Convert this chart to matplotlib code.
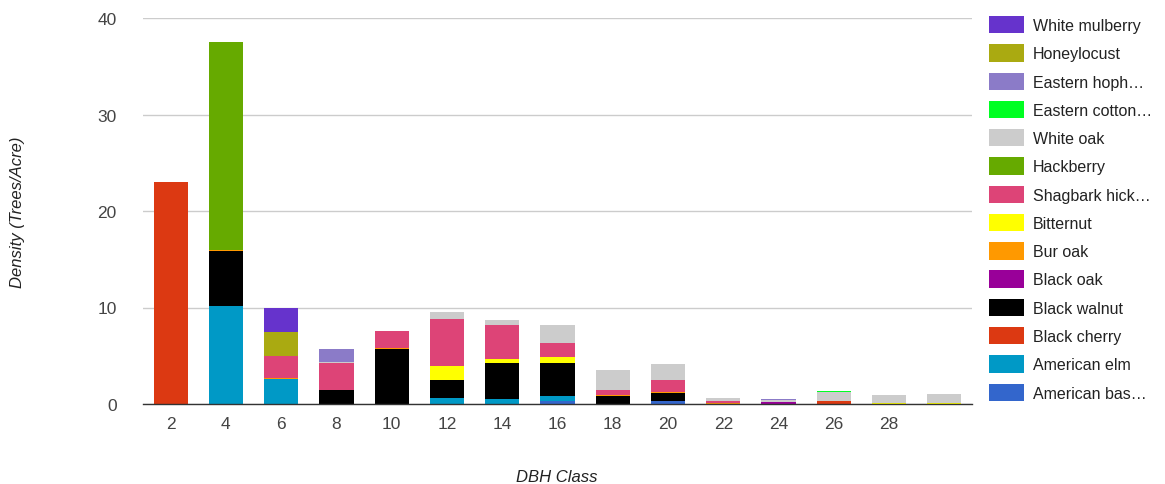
import matplotlib
matplotlib.use("Agg")
import matplotlib.pyplot as plt
import numpy as np

categories = ["2", "4", "6", "8", "10", "12", "14", "16", "18", "20", "22", "24", "26", "28", ""]

# stacking order bottom -> top
species = ["American bas…", "American elm", "Black cherry", "Black walnut", "Black oak",
           "Bur oak", "Bitternut", "Shagbark hick…", "Hackberry", "White oak",
           "Eastern cotton…", "Eastern hoph…", "Honeylocust", "White mulberry"]
colors = ["#3366cc", "#0099c6", "#dc3912", "#000000", "#990099",
          "#ff9900", "#ffff00", "#dd4477", "#66aa00", "#cccccc",
          "#00ff22", "#8b7bc8", "#aaaa11", "#6633cc"]

american_basswood = [0, 0, 0, 0, 0, 0, 0, 0.35, 0, 0.35, 0, 0, 0, 0, 0]
american_elm      = [0, 10.2, 2.6, 0, 0, 0.6, 0.5, 0.5, 0, 0, 0, 0, 0, 0, 0]
black_cherry      = [23.0, 0, 0, 0, 0, 0, 0, 0, 0, 0, 0, 0, 0.3, 0, 0]
black_walnut      = [0, 5.65, 0, 1.4, 5.7, 1.9, 3.7, 3.45, 0.8, 0.75, 0, 0, 0, 0, 0]
black_oak         = [0, 0, 0, 0, 0, 0, 0, 0, 0, 0, 0, 0.25, 0, 0, 0]
bur_oak           = [0, 0.1, 0.1, 0.1, 0.1, 0, 0, 0, 0.1, 0.1, 0.15, 0, 0, 0, 0]
bitternut         = [0, 0, 0, 0, 0, 1.45, 0.5, 0.55, 0, 0, 0, 0, 0, 0.15, 0.15]
shagbark_hickory  = [0, 0, 2.25, 2.75, 1.8, 4.85, 3.5, 1.45, 0.6, 1.3, 0.15, 0, 0, 0, 0]
hackberry         = [0, 21.55, 0, 0, 0, 0, 0, 0, 0, 0, 0, 0, 0, 0, 0]
white_oak         = [0, 0, 0, 0.1, 0, 0.7, 0.5, 1.9, 2.0, 1.6, 0.3, 0.2, 0.95, 0.75, 0.85]
eastern_cottonwood= [0, 0, 0, 0, 0, 0, 0, 0, 0, 0, 0, 0, 0.05, 0, 0]
eastern_hophornbeam=[0, 0, 0, 1.4, 0, 0, 0, 0, 0, 0.05, 0.05, 0.05, 0, 0.05, 0.05]
honeylocust       = [0, 0, 2.55, 0, 0, 0, 0, 0, 0, 0, 0, 0, 0, 0, 0]
white_mulberry    = [0, 0, 2.4, 0, 0, 0, 0, 0, 0, 0, 0, 0, 0, 0, 0]

series = [american_basswood, american_elm, black_cherry, black_walnut, black_oak,
          bur_oak, bitternut, shagbark_hickory, hackberry, white_oak,
          eastern_cottonwood, eastern_hophornbeam, honeylocust, white_mulberry]

plt.rcParams['font.family'] = ['Arial', 'Liberation Sans', 'DejaVu Sans']

fig = plt.figure(figsize=(11.65, 4.85), dpi=100)
ax = fig.add_axes([143/1165, 80/485, (972-143)/1165, (405-19)/485])

x = np.arange(len(categories))
bottom = np.zeros(len(categories))
handles = []
for name, col, vals in zip(species, colors, series):
    v = np.array(vals, dtype=float)
    b = ax.bar(x, v, bottom=bottom, width=0.62, color=col, label=name, zorder=3, linewidth=0)
    handles.append(b)
    bottom += v

ax.set_xlim(-0.5, len(categories) - 0.5)
ax.set_ylim(0, 40)
ax.set_yticks([0, 10, 20, 30, 40])
ax.set_xticks(x)
ax.set_xticklabels(categories)
ax.grid(axis='y', color='#cccccc', linewidth=1, zorder=0)
for s in ['top', 'right', 'left']:
    ax.spines[s].set_visible(False)
ax.spines['bottom'].set_color('#333333')
ax.spines['bottom'].set_linewidth(1)
ax.spines['bottom'].set_zorder(4)
ax.tick_params(axis='both', length=0, labelsize=12.5, colors='#444444')
ax.tick_params(axis='y', pad=19)
ax.tick_params(axis='x', pad=9)

fig.text(557/1165, 1 - 478/485, "DBH Class", ha='center', va='center',
         fontsize=12, style='italic', color='#222222')
fig.text(18/1165, 1 - 212/485, "Density (Trees/Acre)", ha='center', va='center',
         rotation=90, fontsize=12, style='italic', color='#222222')

leg = ax.legend(handles[::-1], species[::-1], loc='upper left',
                bbox_to_anchor=(989/1165, 1 - 17/485), bbox_transform=fig.transFigure,
                frameon=False, fontsize=11.5, handlelength=2.2, handleheight=1.3,
                labelspacing=0.68, handletextpad=0.55, borderaxespad=0, borderpad=0)
for t in leg.get_texts():
    t.set_color('#222222')

fig.savefig("out.png", dpi=100)
